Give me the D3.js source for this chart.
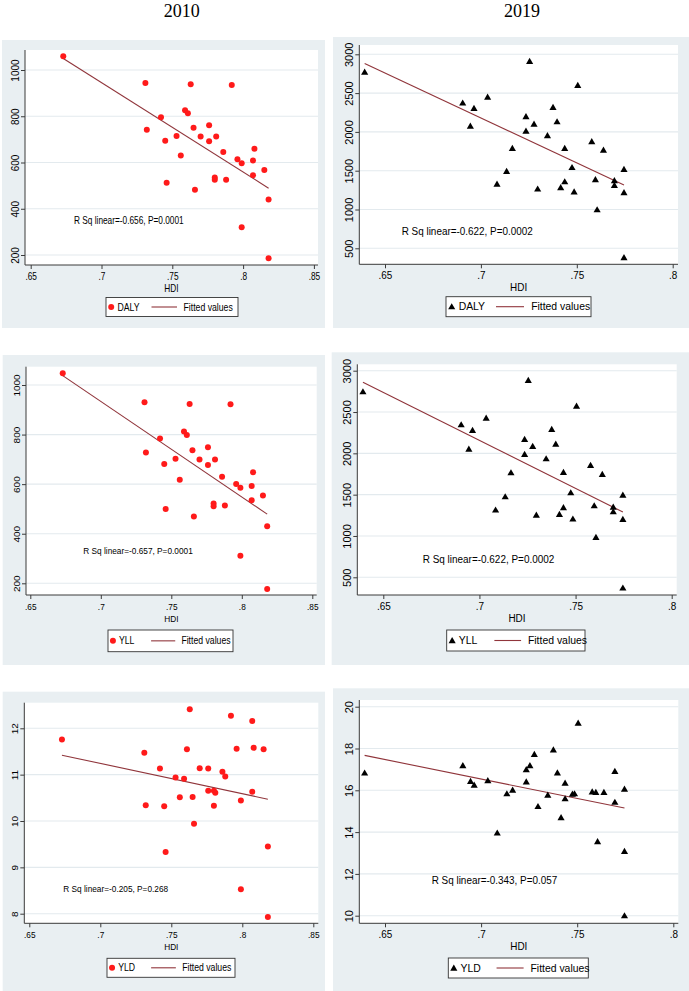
<!DOCTYPE html>
<html>
<head>
<meta charset="utf-8">
<script src="https://cdn.jsdelivr.net/npm/d3@7"></script>
<style>
  html, body { margin: 0; padding: 0; background: #ffffff; }
  svg { display: block; }
</style>
</head>
<body>
<svg id="chart" width="689" height="991"></svg>
<script>
// ---------------- DATA ----------------
const years = ["2010", "2019"];
const xTicks2010 = [0.65, 0.70, 0.75, 0.80, 0.85];
const xTickLabels2010 = [".65", ".7", ".75", ".8", ".85"];
const xTicks2019 = [0.65, 0.70, 0.75, 0.80];
const xTickLabels2019 = [".65", ".7", ".75", ".8"];

const yTicksDaly2010 = [200, 400, 600, 800, 1000];
const yTicksDaly2019 = [500, 1000, 1500, 2000, 2500, 3000];
const yTicksYld2010 = [8, 9, 10, 11, 12];
const yTicksYld2019 = [10, 12, 14, 16, 18, 20];

const hdi2010 = [0.673,0.731,0.763,0.792,0.759,0.761,0.742,0.732,0.765,0.776,0.753,0.770,0.745,0.776,0.781,0.756,0.786,0.808,0.796,0.799,0.807,0.807,0.815,0.780,0.780,0.788,0.746,0.766,0.818,0.799,0.818];
const daly2010 = [1060,944,938,935,826,813,796,742,750,761,715,712,694,692,712,630,645,660,614,597,609,545,568,535,525,525,512,482,440,320,186];
const yll2010  = [1047,930,923,922,812,798,784,728,737,749,702,699,681,677,699,618,630,648,601,585,593,535,554,522,511,514,500,469,430,311,177];
const yld2010  = [11.76,11.47,12.41,12.27,10.91,11.55,11.13,10.34,10.52,10.65,10.94,11.14,10.32,11.13,10.61,10.51,11.06,11.58,11.56,10.44,12.16,10.63,11.55,10.65,10.33,10.96,9.33,9.94,9.45,8.53,7.93];

const hdi2019 = [0.6394,0.7254,0.7505,0.7035,0.6905,0.6964,0.6945,0.7376,0.7235,0.7277,0.7397,0.7235,0.7347,0.7164,0.7437,0.7578,0.7639,0.7134,0.7084,0.7475,0.7296,0.7416,0.7437,0.7486,0.7597,0.7696,0.7696,0.7746,0.7746,0.7606,0.7746];
const daly2019 = [2772,2910,2600,2450,2373,2304,2076,2317,2197,2102,2132,2012,1952,1789,1789,1875,1767,1493,1329,1542,1265,1282,1359,1227,1385,1372,1312,1518,1218,998,380];
const yll2019  = [2746,2883,2573,2427,2347,2278,2052,2290,2169,2085,2113,1988,1935,1766,1770,1855,1746,1476,1315,1524,1254,1262,1343,1206,1367,1351,1294,1496,1202,984,371];
const yld2019  = [16.83,17.18,19.22,16.47,17.18,16.25,16.43,17.94,16.99,17.72,16.84,16.41,15.77,16.01,16.35,15.93,15.90,15.84,13.96,15.82,15.23,14.70,15.60,15.84,15.90,16.91,15.43,16.06,13.08,13.55,10.00];

// fitted values at min / max HDI
const fitDaly2010 = [1050, 489];
const fitYll2010  = [1038, 479];
const fitYld2010  = [11.42, 10.47];
const fitDaly2019 = [2880, 1316];
const fitYll2019  = [2859, 1290];
const fitYld2019  = [17.67, 15.15];

const notes = [
  "R Sq linear=-0.656, P=0.0001", "R Sq linear=-0.622, P=0.0002",
  "R Sq linear=-0.657, P=0.0001", "R Sq linear=-0.622, P=0.0002",
  "R Sq linear=-0.205, P=0.268",  "R Sq linear=-0.343, P=0.057"
];
const keyLabels = ["DALY", "DALY", "YLL", "YLL", "YLD", "YLD"];
const fittedLabel = "Fitted values";
const xTitle = "HDI";

// ---------------- LAYOUT ----------------
const SANS = "'Liberation Sans', Arial, Helvetica, sans-serif";
const SERIF = "'Liberation Serif', 'Times New Roman', serif";
const BG = "#e9eff2";
const GRID = "#e3eaee";
const AXIS = "#3a3a3a";
const RED = "#ff1a1a";
const FIT = "#90353b";

const panels = [
  { hdi: hdi2010, vals: daly2010, fit: fitDaly2010, yTicks: yTicksDaly2010, xTicks: xTicks2010, xLabs: xTickLabels2010, marker: "circle",
    bg: [2, 40, 325, 328], plot: [25, 50, 318, 265], xr: [30.7, 313.9], yr: [255, 70], note: [74, 224], legend: [106, 297.5, 238, 316.5], ts: 0.83 },
  { hdi: hdi2019, vals: daly2019, fit: fitDaly2019, yTicks: yTicksDaly2019, xTicks: xTicks2019, xLabs: xTickLabels2019, marker: "triangle",
    bg: [333, 37, 689, 328], plot: [359.3, 45, 678, 264.3], xr: [385, 672.7], yr: [248.3, 54.3], note: [401.7, 234.5], legend: [446, 296.7, 591, 316.7], ts: 0.9 },
  { hdi: hdi2010, vals: yll2010, fit: fitYll2010, yTicks: yTicksDaly2010, xTicks: xTicks2010, xLabs: xTickLabels2010, marker: "circle",
    bg: [2.7, 355, 325, 665], plot: [26, 366.7, 316.7, 595], xr: [30.3, 312.3], yr: [583.3, 385], note: [83.3, 553.5], legend: [108, 630, 233, 651.7], ts: 0.83 },
  { hdi: hdi2019, vals: yll2019, fit: fitYll2019, yTicks: yTicksDaly2019, xTicks: xTicks2019, xLabs: xTickLabels2019, marker: "triangle",
    bg: [331.7, 352.3, 689, 665], plot: [357.3, 364.3, 676.7, 595], xr: [383.3, 671.7], yr: [577.3, 370.7], note: [422.7, 562.5], legend: [446.7, 630, 585, 651], ts: 0.9 },
  { hdi: hdi2010, vals: yld2010, fit: fitYld2010, yTicks: yTicksYld2010, xTicks: xTicks2010, xLabs: xTickLabels2010, marker: "circle",
    bg: [2.7, 691.7, 325, 991], plot: [24.3, 702.7, 318.3, 923.3], xr: [29.3, 313.3], yr: [913.7, 728.3], note: [63.3, 892], legend: [107, 958.3, 235, 977.3], ts: 0.83 },
  { hdi: hdi2019, vals: yld2019, fit: fitYld2019, yTicks: yTicksYld2019, xTicks: xTicks2019, xLabs: xTickLabels2019, marker: "triangle",
    bg: [333, 688.3, 689, 991], plot: [359.3, 700, 678.3, 923.3], xr: [385, 673.3], yr: [915.7, 706.7], note: [431.7, 883.5], legend: [448.3, 958, 588.3, 978], ts: 0.9 }
];
const titlePos = [[181.7, 17], [522, 17]];

const svg = d3.select("#chart");

function label(parent, x, y, str, opt = {}) {
  const g = parent.append("g")
    .attr("transform", `translate(${x},${y})${opt.rotate ? ` rotate(${opt.rotate})` : ""} scale(${opt.sx ?? 0.8},1)`);
  g.append("text")
    .attr("text-anchor", opt.anchor || "start")
    .attr("font-size", opt.size || 10)
    .attr("font-family", opt.family || SANS)
    .attr("fill", opt.fill || "#000")
    .text(str);
  return g;
}

const triangle = d3.symbol(d3.symbolTriangle, 22);
function drawMarker(g, type, x, y) {
  if (type === "circle") {
    g.append("circle").attr("cx", x).attr("cy", y).attr("r", 3).attr("fill", RED);
  } else {
    g.append("path").attr("d", triangle()).attr("transform", `translate(${x},${y + 0.6})`).attr("fill", "#000");
  }
}

// titles
years.forEach((t, i) => {
  svg.append("text").attr("x", titlePos[i][0]).attr("y", titlePos[i][1])
    .attr("text-anchor", "middle").attr("font-family", SERIF).attr("font-size", 18)
    .attr("fill", "#000").text(t);
});

panels.forEach((p, i) => {
  const g = svg.append("g");
  const [bx0, by0, bx1, by1] = p.bg;
  const [px0, py0, px1, py1] = p.plot;
  const sc = (bx1 - bx0) / 323; // right panels are a bit wider

  g.append("rect").attr("x", bx0).attr("y", by0).attr("width", bx1 - bx0).attr("height", by1 - by0).attr("fill", BG);
  g.append("rect").attr("x", px0).attr("y", py0).attr("width", px1 - px0).attr("height", py1 - py0).attr("fill", "#fff");

  const xDom = [p.xTicks[0], p.xTicks[p.xTicks.length - 1]];
  const yDom = [p.yTicks[0], p.yTicks[p.yTicks.length - 1]];
  const x = d3.scaleLinear().domain(xDom).range(p.xr);
  const y = d3.scaleLinear().domain(yDom).range(p.yr);

  // gridlines
  g.append("g").selectAll("line").data(p.yTicks).join("line")
    .attr("x1", px0).attr("x2", px1).attr("y1", d => y(d)).attr("y2", d => y(d))
    .attr("stroke", GRID).attr("stroke-width", 1.1);

  // x axis
  const xa = g.append("g").attr("transform", `translate(0,${py1})`)
    .call(d3.axisBottom(x).tickValues(p.xTicks).tickFormat((d, k) => p.xLabs[k]).tickSize(4).tickSizeOuter(0));
  xa.select(".domain").remove();
  xa.selectAll(".tick line").attr("stroke", AXIS);
  xa.selectAll(".tick text").attr("y", 15).attr("dy", 0).attr("font-size", 10 * sc).attr("font-family", SANS)
    .attr("fill", "#000").attr("transform", `scale(${p.ts},1)`);

  // y axis
  const ya = g.append("g").attr("transform", `translate(${px0},0)`)
    .call(d3.axisLeft(y).tickValues(p.yTicks).tickFormat(d => String(d)).tickSize(4).tickSizeOuter(0));
  ya.select(".domain").remove();
  ya.selectAll(".tick line").attr("stroke", AXIS);
  ya.selectAll(".tick text").attr("x", 0).attr("y", -6).attr("dy", 0).attr("text-anchor", "middle")
    .attr("transform", "rotate(-90)").attr("font-size", 10 * sc).attr("font-family", SANS).attr("fill", "#000");

  // axis lines
  g.append("line").attr("x1", px0).attr("x2", px0).attr("y1", py0).attr("y2", py1).attr("stroke", AXIS).attr("stroke-width", 1);
  g.append("line").attr("x1", px0).attr("x2", px1).attr("y1", py1).attr("y2", py1).attr("stroke", AXIS).attr("stroke-width", 1);

  // axis title
  label(g, (px0 + px1) / 2, py1 + 27, xTitle, { anchor: "middle", size: 10 * sc, sx: p.ts });

  // fitted line
  const xmin = d3.min(p.hdi), xmax = d3.max(p.hdi);
  g.append("line").attr("x1", x(xmin)).attr("y1", y(p.fit[0])).attr("x2", x(xmax)).attr("y2", y(p.fit[1]))
    .attr("stroke", FIT).attr("stroke-width", 1.1);

  // points
  const pts = g.append("g");
  p.hdi.forEach((h, k) => drawMarker(pts, p.marker, x(h), y(p.vals[k])));

  // annotation
  label(g, p.note[0], p.note[1], notes[i], { size: 10 * sc, sx: p.ts });

  // legend
  const [lx0, ly0, lx1, ly1] = p.legend;
  const ls = (lx1 - lx0) / 132;
  const cy = (ly0 + ly1) / 2;
  g.append("rect").attr("x", lx0).attr("y", ly0).attr("width", lx1 - lx0).attr("height", ly1 - ly0)
    .attr("fill", "#fff").attr("stroke", "#333").attr("stroke-width", 0.9);
  drawMarker(g, p.marker, lx0 + 5.2 * ls, cy);
  label(g, lx0 + 11.5 * ls, cy + 3.6, keyLabels[i], { size: 10.5 * sc, sx: p.ts });
  g.append("line").attr("x1", lx0 + 45.5 * ls).attr("x2", lx0 + 71 * ls).attr("y1", cy).attr("y2", cy)
    .attr("stroke", FIT).attr("stroke-width", 1.1);
  label(g, lx0 + 77.5 * ls, cy + 3.6, fittedLabel, { size: 10.5 * sc, sx: p.ts });
});
</script>
</body>
</html>
